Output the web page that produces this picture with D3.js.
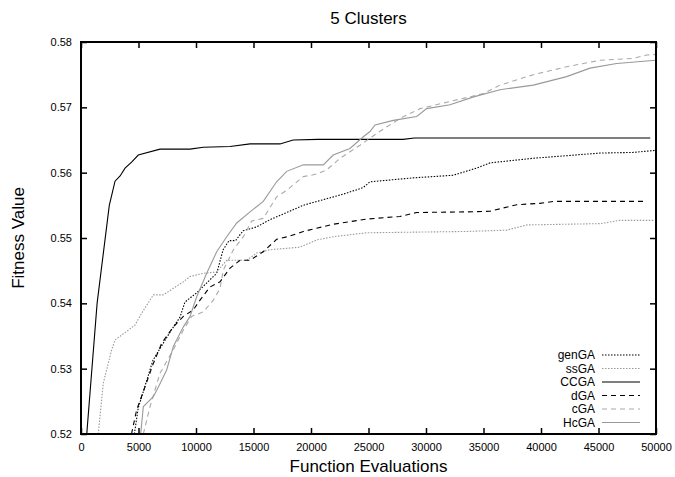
<!DOCTYPE html>
<html>
<head>
<meta charset="utf-8">
<script src="https://cdn.jsdelivr.net/npm/d3@7"></script>
<style>
  body { margin: 0; background: #fff; }
  text { font-family: "Liberation Sans", Arial, sans-serif; }
</style>
</head>
<body>
<div id="chart"></div>
<script>
// data: [evaluations, fitness]
var genGA = [[4640,0.52],[4980,0.524],[6260,0.5313],[7740,0.5356],[8610,0.5379],[9040,0.5402],[10050,0.5416],[10920,0.5431],[11800,0.5446],[12360,0.5482],[12870,0.5496],[13440,0.5496],[14090,0.5511],[15280,0.5517],[16430,0.5528],[17890,0.5539],[19310,0.5550],[19910,0.5553],[22780,0.5567],[24520,0.5577],[25130,0.5586],[28870,0.5592],[32350,0.5596],[34400,0.5607],[35570,0.5615],[39310,0.5622],[42230,0.5626],[45130,0.5630],[48000,0.5631],[49900,0.5634]];
var ssGA = [[1500,0.52],[1940,0.5278],[2670,0.5329],[2960,0.5344],[3970,0.5357],[4700,0.5367],[5280,0.5385],[6290,0.5413],[7160,0.5413],[8030,0.5423],[8900,0.5433],[9480,0.5441],[10640,0.5446],[11800,0.5448],[12670,0.5466],[14410,0.5466],[15280,0.5477],[16430,0.5482],[19040,0.5486],[20490,0.5497],[21930,0.5502],[24850,0.5508],[33540,0.5510],[37020,0.5512],[38760,0.5520],[45130,0.5522],[46870,0.5527],[49900,0.5527]];
var CCGA = [[500,0.52],[1400,0.540],[2460,0.555],[2960,0.5587],[3400,0.5595],[3830,0.5607],[4400,0.5616],[4980,0.5627],[6870,0.5636],[9480,0.5636],[10640,0.5639],[12960,0.5640],[14700,0.5644],[17300,0.5644],[18450,0.5650],[20600,0.5651],[28000,0.5651],[29000,0.5653],[49500,0.5653]];
var dGA = [[4390,0.52],[4840,0.5237],[5420,0.5265],[6290,0.5308],[7020,0.5339],[8030,0.5364],[8900,0.5380],[9770,0.5390],[10350,0.5405],[11220,0.5425],[12090,0.5433],[12960,0.5454],[13830,0.5466],[14700,0.5466],[15850,0.5479],[17010,0.5498],[18170,0.5503],[19330,0.5510],[21930,0.5521],[24850,0.5529],[27740,0.5533],[29190,0.5539],[33540,0.5540],[35570,0.5541],[37890,0.5551],[39910,0.5553],[41070,0.5556],[49200,0.5556]];
var cGA = [[5420,0.52],[6000,0.5242],[6870,0.5293],[8030,0.5329],[8900,0.5359],[9620,0.5380],[10640,0.5387],[11510,0.5405],[12090,0.5423],[12380,0.5451],[13250,0.5482],[14120,0.5502],[14840,0.5526],[15850,0.5530],[17010,0.5563],[17890,0.5573],[19330,0.5594],[20000,0.5596],[20490,0.5598],[21350,0.5604],[22520,0.5622],[24260,0.5642],[25710,0.5660],[26580,0.5670],[27740,0.5683],[29480,0.5698],[32090,0.5709],[34990,0.5721],[36430,0.5734],[39330,0.5750],[42230,0.5762],[45130,0.5772],[48030,0.5775],[49190,0.5780],[50000,0.5781]];
var HcGA = [[5190,0.52],[5420,0.5242],[6290,0.5257],[6730,0.5272],[7450,0.5298],[8030,0.5334],[8900,0.5364],[9480,0.5380],[10060,0.5410],[10930,0.5446],[11800,0.5479],[12670,0.5502],[13540,0.5523],[14700,0.5540],[15850,0.5556],[17010,0.5586],[17890,0.5602],[19330,0.5612],[21070,0.5612],[21930,0.5627],[23390,0.5637],[24550,0.5655],[25130,0.5663],[25570,0.5673],[27160,0.5680],[29190,0.5686],[30060,0.5698],[32090,0.5704],[34140,0.5716],[36430,0.5727],[39330,0.5734],[42230,0.5747],[44260,0.5760],[46580,0.5767],[50000,0.5772]];

var seriesNames = ["genGA", "ssGA", "CCGA", "dGA", "cGA", "HcGA"];
var seriesData = [genGA, ssGA, CCGA, dGA, cGA, HcGA];
var xTicks = d3.range(0, 50001, 5000);
var yTicks = [0.52, 0.53, 0.54, 0.55, 0.56, 0.57, 0.58];

var styles = {
  genGA: { color: "#000", dash: "1.5,1.5", width: 1.1 },
  ssGA: { color: "#999", dash: "1.5,1.5", width: 1.1 },
  CCGA: { color: "#000", dash: null, width: 1.1 },
  dGA: { color: "#000", dash: "5,4", width: 1.1 },
  cGA: { color: "#aaa", dash: "5,4", width: 1.1 },
  HcGA: { color: "#999", dash: null, width: 1.1 }
};

var svgWidth = 675, svgHeight = 477;
var margin = { top: 42, right: 19, bottom: 43, left: 81 };
var chartWidth = svgWidth - margin.left - margin.right;
var chartHeight = svgHeight - margin.top - margin.bottom;

var svg = d3.select("#chart").append("svg")
  .attr("width", svgWidth)
  .attr("height", svgHeight);

var chartGroup = svg.append("g")
  .attr("transform", `translate(${margin.left}, ${margin.top})`);

var xScale = d3.scaleLinear().domain([0, 50000]).range([0, chartWidth]);
var yScale = d3.scaleLinear().domain([0.52, 0.58]).range([chartHeight, 0]);

var clip = chartGroup.append("clipPath").attr("id", "plotclip")
  .append("rect").attr("width", chartWidth).attr("height", chartHeight);

// axes with inward ticks on all four sides
var xAxis = d3.axisBottom(xScale).tickValues(xTicks).tickSizeInner(-6).tickSizeOuter(0).tickPadding(9).tickFormat(d3.format("d"));
var yAxis = d3.axisLeft(yScale).tickValues(yTicks).tickSizeInner(-6).tickSizeOuter(0).tickPadding(9).tickFormat(d3.format(".2f"));

var gx = chartGroup.append("g").attr("transform", `translate(0, ${chartHeight})`).call(xAxis);
var gy = chartGroup.append("g").call(yAxis);
chartGroup.append("g").call(d3.axisTop(xScale).tickValues(xTicks).tickSizeInner(-6).tickSizeOuter(0).tickFormat(""));
chartGroup.append("g").attr("transform", `translate(${chartWidth}, 0)`)
  .call(d3.axisRight(yScale).tickValues(yTicks).tickSizeInner(-6).tickSizeOuter(0).tickFormat(""));

chartGroup.selectAll(".domain").remove();
chartGroup.selectAll(".tick line").attr("stroke", "#000").attr("stroke-width", 1.5);
chartGroup.selectAll(".tick text").attr("font-size", 11).attr("fill", "#000");

// curves
var line = d3.line().x(d => xScale(d[0])).y(d => yScale(d[1]));
chartGroup.append("g").attr("clip-path", "url(#plotclip)")
  .selectAll("path")
  .data(seriesNames)
  .enter()
  .append("path")
  .attr("d", (d, i) => line(seriesData[i]))
  .attr("fill", "none")
  .attr("stroke", d => styles[d].color)
  .attr("stroke-width", d => styles[d].width)
  .attr("stroke-dasharray", d => styles[d].dash);

// frame
chartGroup.append("rect")
  .attr("width", chartWidth).attr("height", chartHeight)
  .attr("fill", "none").attr("stroke", "#000").attr("stroke-width", 2);

// legend
var legend = chartGroup.append("g").attr("transform", `translate(${chartWidth - 61}, ${chartHeight - 79})`);
var rows = legend.selectAll("g").data(seriesNames).enter().append("g")
  .attr("transform", (d, i) => `translate(0, ${i * 13.5})`);
rows.append("text")
  .attr("x", 0).attr("dy", "0.35em")
  .attr("text-anchor", "end")
  .attr("font-size", 12)
  .text(d => d);
rows.append("line")
  .attr("x1", 7).attr("x2", 45)
  .attr("stroke", d => styles[d].color)
  .attr("stroke-width", d => styles[d].width)
  .attr("stroke-dasharray", d => styles[d].dash);

// titles
svg.append("text")
  .attr("x", margin.left + chartWidth / 2).attr("y", 24)
  .attr("text-anchor", "middle").attr("font-size", 17)
  .text("5 Clusters");

svg.append("text")
  .attr("x", margin.left + chartWidth / 2).attr("y", 472)
  .attr("text-anchor", "middle").attr("font-size", 17)
  .text("Function Evaluations");

svg.append("text")
  .attr("transform", "rotate(-90)")
  .attr("x", -(margin.top + chartHeight / 2)).attr("y", 24)
  .attr("text-anchor", "middle").attr("font-size", 17)
  .text("Fitness Value");
</script>
</body>
</html>
